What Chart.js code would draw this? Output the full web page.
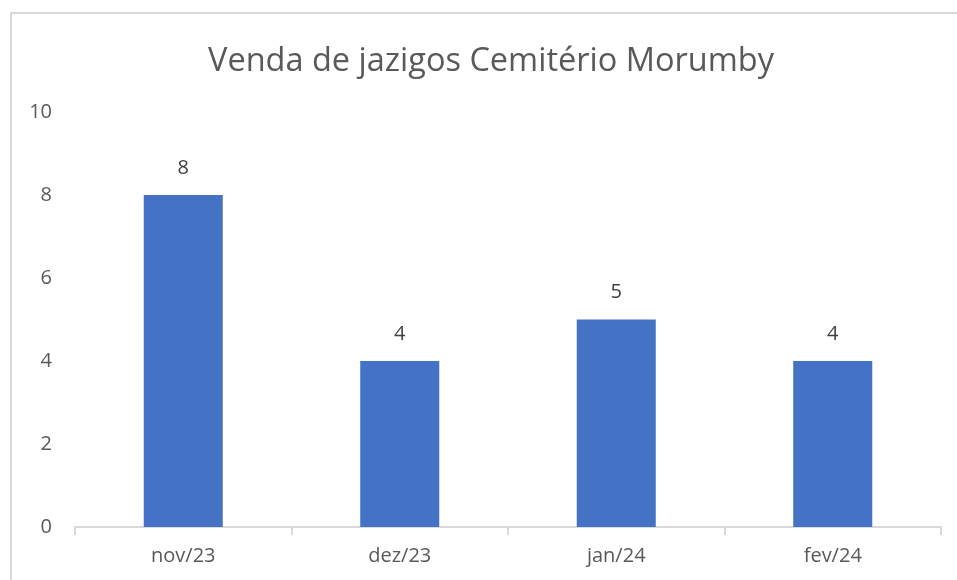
<!DOCTYPE html>
<html>
<head>
<meta charset="utf-8">
<script src="https://cdn.jsdelivr.net/npm/chart.js@4"></script>
<style>
  body { margin: 0; background: #fff; }
  #box { position: absolute; left: 10px; top: 12px; width: 960px; height: 580px; border: 2px solid #d9d9d9; box-sizing: border-box; }
  #wrap { position: absolute; left: 0; top: 0; width: 957px; height: 580px; }
</style>
</head>
<body>
<div id="box"></div>
<div id="wrap"><canvas id="vendasChart" width="957" height="580"></canvas></div>
<script>
// dados do gráfico
const meses = ['nov/23', 'dez/23', 'jan/24', 'fev/24'];
const vendas = [8, 4, 5, 4];
const tituloGrafico = 'Venda de jazigos Cemitério Morumby';

const fonte = '"Open Sans", sans-serif';

// escreve o valor em cima de cada barra
const rotulosBarras = {
    id: 'rotulosBarras',
    afterLayout(chart) {
        // centra o título como no original (caixa começa em x=41)
        if (chart.titleBlock) chart.titleBlock.left = 41;
    },
    afterDatasetsDraw(chart) {
        const ctx = chart.ctx;
        ctx.save();
        ctx.font = '20px ' + fonte;
        ctx.fillStyle = '#404040';
        ctx.textAlign = 'center';
        ctx.textBaseline = 'middle';
        chart.getDatasetMeta(0).data.forEach((bar, i) => {
            ctx.fillText(vendas[i], bar.x, bar.y - 27);
        });
        ctx.restore();
    }
};

new Chart(document.getElementById('vendasChart'), {
    type: 'bar',
    data: {
        labels: meses,
        datasets: [{
            data: vendas,
            backgroundColor: '#4472C4',
            categoryPercentage: 1,
            barPercentage: 0.365
        }]
    },
    options: {
        responsive: false,
        animation: false,
        layout: { padding: { left: 0, right: 16, top: 0, bottom: 0 } },
        plugins: {
            legend: { display: false },
            tooltip: { enabled: false },
            title: {
                display: true,
                text: tituloGrafico,
                color: '#595959',
                font: { family: fonte, size: 32.5, weight: 'normal' },
                padding: { top: 42, bottom: 31 }
            }
        },
        scales: {
            y: {
                min: 0,
                max: 10,
                ticks: { stepSize: 2, color: '#595959', font: { family: fonte, size: 20 }, padding: 15 },
                grid: { display: false },
                border: { display: false },
                afterFit: s => { s.width = 75; }
            },
            x: {
                ticks: { color: '#595959', font: { family: fonte, size: 20 }, padding: 9 },
                grid: { drawOnChartArea: false, drawTicks: true, tickLength: 8, color: '#d9d9d9', lineWidth: 2 },
                border: { display: true, color: '#d9d9d9', width: 2 },
                afterFit: s => { s.height = 53; }
            }
        }
    },
    plugins: [rotulosBarras]
});
</script>
</body>
</html>
